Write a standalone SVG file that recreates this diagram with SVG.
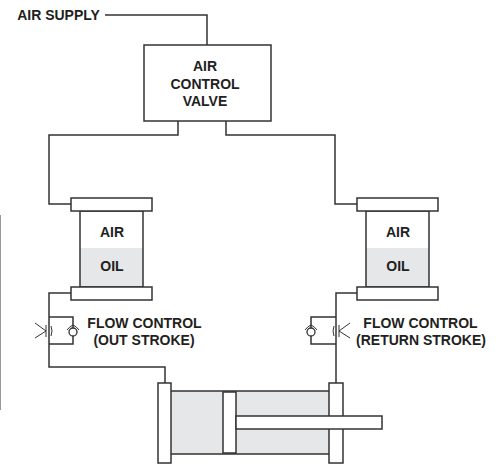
<svg xmlns="http://www.w3.org/2000/svg" width="499" height="464" viewBox="0 0 499 464">
<style>
text{font-family:"Liberation Sans",Arial,sans-serif;font-weight:bold;font-size:14px;fill:#231f20;text-anchor:middle}
.l{fill:none;stroke:#333;stroke-width:1.5}
.b{fill:#fff;stroke:#333;stroke-width:1.5}
.g{fill:#e6e7e8;stroke:none}
.t{fill:none;stroke:#333;stroke-width:1}
</style>
<rect x="0" y="215" width="1" height="195" fill="#999"/>
<g id="connectors">
<path class="l" d="M105 15H207V45"/>
<path class="l" d="M178 121V135H49V204H71"/>
<path class="l" d="M226 121V135H335V204H357"/>
<path class="l" d="M71 293H49V367H165V383"/>
<path class="l" d="M357 293H336V383"/>
<path class="l" d="M49 317H73V344H49"/>
<path class="l" d="M336 317H311V344H336"/>
</g>
<g id="air-supply"><text x="58.500" y="20">AIR SUPPLY</text></g>
<g id="air-control-valve">
<rect class="b" x="144" y="45" width="127" height="76"/>
<text x="205" y="71">AIR</text><text x="205" y="88.500">CONTROL</text><text x="205" y="106">VALVE</text>
</g>
<g id="tank-left">
<rect class="g" x="80" y="248" width="63" height="39"/>
<rect class="l" x="80" y="211" width="63" height="76"/>
<rect class="b" x="71" y="198" width="81" height="13"/>
<rect class="b" x="71" y="287" width="81" height="13"/>
<text x="112" y="237">AIR</text><text x="112" y="271">OIL</text>
</g>
<g id="tank-right">
<rect class="g" x="366" y="248" width="63" height="39"/>
<rect class="l" x="366" y="211" width="63" height="76"/>
<rect class="b" x="357" y="198" width="81" height="13"/>
<rect class="b" x="357" y="287" width="81" height="13"/>
<text x="398" y="237">AIR</text><text x="398" y="271">OIL</text>
</g>
<g id="flow-control-left">
<path class="t" d="M35 323L46 331L35 338M46 325V337M51 326Q53 331 51 336"/>
<circle cx="73" cy="332" r="4" fill="#fff" stroke="#333" stroke-width="1.300"/>
<path class="t" d="M67 330Q70 326 73 325Q76 326 79 330"/>
<text x="144.500" y="328">FLOW CONTROL</text><text x="144" y="345">(OUT STROKE)</text>
</g>
<g id="flow-control-right">
<path class="t" d="M350 323L339 331L350 338M339 325V337M334 326Q332 331 334 336"/>
<circle cx="311" cy="332" r="4" fill="#fff" stroke="#333" stroke-width="1.300"/>
<path class="t" d="M305 330Q308 326 311 325Q314 326 317 330"/>
<text x="420.500" y="328">FLOW CONTROL</text><text x="421" y="345">(RETURN STROKE)</text>
</g>
<g id="cylinder">
<rect class="g" x="171" y="391" width="158" height="63"/>
<path class="l" d="M171 391H329M171 454H329"/>
<rect class="b" x="158" y="383" width="13" height="80"/>
<rect class="b" x="329" y="383" width="14" height="80"/>
<rect class="b" x="223" y="392" width="13" height="61"/>
<rect class="b" x="236" y="416" width="146" height="13"/>
</g>
</svg>
